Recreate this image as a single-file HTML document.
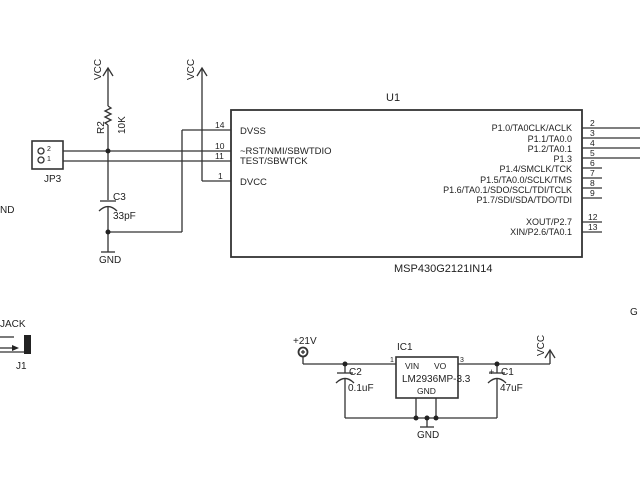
<!DOCTYPE html>
<html><head><style>
html,body{margin:0;padding:0;background:#fff;}
svg text{font-family:"Liberation Sans",sans-serif;fill:#222;}
</style></head><body>
<svg width="640" height="480" viewBox="0 0 640 480" xmlns="http://www.w3.org/2000/svg">
<g stroke="#333" stroke-width="1.3" fill="none">
<rect x="231" y="110" width="351" height="147" stroke-width="1.8"/>
<line x1="182" y1="130" x2="231" y2="130"/>
<line x1="182" y1="130" x2="182" y2="232"/>
<line x1="108" y1="232" x2="182" y2="232"/>
<line x1="63" y1="151" x2="231" y2="151"/>
<line x1="63" y1="161" x2="231" y2="161"/>
<line x1="202" y1="181" x2="231" y2="181"/>
<line x1="202" y1="68" x2="202" y2="181"/>
<polyline points="197,76 202,68 207,76"/>
<line x1="108" y1="68" x2="108" y2="106"/>
<polyline points="103,76 108,68 113,76"/>
<polyline points="108,106 111,108 105,111 111,114 105,117 111,120 105,123 108,125"/>
<line x1="108" y1="125" x2="108" y2="200"/>
<line x1="100" y1="201" x2="116" y2="201"/>
<path d="M99,211 Q108,202 117,211"/>
<line x1="108" y1="206" x2="108" y2="252"/>
<line x1="101" y1="252" x2="115" y2="252"/>
<rect x="32" y="141" width="31" height="28" stroke-width="1.6"/>
<circle cx="41" cy="151" r="3"/>
<circle cx="41" cy="160" r="3"/>
<line x1="582" y1="128" x2="640" y2="128"/>
<line x1="582" y1="138" x2="640" y2="138"/>
<line x1="582" y1="148" x2="640" y2="148"/>
<line x1="582" y1="158" x2="640" y2="158"/>
<line x1="582" y1="168" x2="602" y2="168"/>
<line x1="582" y1="178" x2="602" y2="178"/>
<line x1="582" y1="188" x2="602" y2="188"/>
<line x1="582" y1="198" x2="602" y2="198"/>
<line x1="582" y1="222" x2="602" y2="222"/>
<line x1="582" y1="232" x2="602" y2="232"/>
<line x1="0" y1="337" x2="14" y2="337"/>
<line x1="0" y1="348" x2="14" y2="348"/>
<line x1="0" y1="352" x2="24" y2="352"/>
<rect x="396" y="357" width="62" height="41" stroke-width="1.6"/>
<circle cx="303" cy="352" r="4.5" stroke-width="1.8"/>
<line x1="301" y1="352" x2="305" y2="352"/><line x1="303" y1="350" x2="303" y2="354"/>
<line x1="303" y1="357" x2="303" y2="364"/>
<line x1="303" y1="364" x2="396" y2="364"/>
<line x1="458" y1="364" x2="550" y2="364"/>
<line x1="550" y1="350" x2="550" y2="364"/>
<polyline points="545,358 550,350 555,358"/>
<line x1="345" y1="364" x2="345" y2="373"/>
<line x1="337" y1="373" x2="353" y2="373"/>
<path d="M336,383 Q345,374 354,383"/>
<line x1="345" y1="378" x2="345" y2="418"/>
<line x1="497" y1="364" x2="497" y2="373"/>
<line x1="489" y1="373" x2="505" y2="373"/>
<path d="M488,383 Q497,374 506,383"/>
<line x1="497" y1="378" x2="497" y2="418"/>
<line x1="345" y1="418" x2="497" y2="418"/>
<line x1="416" y1="398" x2="416" y2="418"/>
<line x1="436" y1="398" x2="436" y2="418"/>
<line x1="427" y1="418" x2="427" y2="427"/>
<line x1="420" y1="427" x2="434" y2="427"/>
</g>
<g fill="#222">
<circle cx="108" cy="151" r="2.5"/><circle cx="108" cy="232" r="2.5"/>
<circle cx="345" cy="364" r="2.5"/><circle cx="497" cy="364" r="2.5"/>
<circle cx="416" cy="418" r="2.5"/><circle cx="427" cy="418" r="2.5"/><circle cx="436" cy="418" r="2.5"/>
<rect x="24" y="335" width="7" height="19"/>
<polygon points="12,345 19,348 12,351"/>
</g>
<g font-size="9.5">
<text x="386" y="101" font-size="11">U1</text>
<text x="394" y="272" font-size="11">MSP430G2121IN14</text>
<text x="240" y="134">DVSS</text>
<text x="240" y="154">~RST/NMI/SBWTDIO</text>
<text x="240" y="164">TEST/SBWTCK</text>
<text x="240" y="185">DVCC</text>
<g font-size="8.5">
<text x="215" y="128">14</text><text x="215" y="149">10</text><text x="215" y="159">11</text><text x="218" y="179">1</text>
</g>
<g text-anchor="end" font-size="9">
<text x="572" y="131">P1.0/TA0CLK/ACLK</text>
<text x="572" y="142">P1.1/TA0.0</text>
<text x="572" y="152">P1.2/TA0.1</text>
<text x="572" y="162">P1.3</text>
<text x="572" y="172">P1.4/SMCLK/TCK</text>
<text x="572" y="183">P1.5/TA0.0/SCLK/TMS</text>
<text x="572" y="193">P1.6/TA0.1/SDO/SCL/TDI/TCLK</text>
<text x="572" y="203">P1.7/SDI/SDA/TDO/TDI</text>
<text x="572" y="225">XOUT/P2.7</text>
<text x="572" y="235">XIN/P2.6/TA0.1</text>
</g>
<g font-size="8.5">
<text x="590" y="126">2</text><text x="590" y="136">3</text><text x="590" y="146">4</text><text x="590" y="156">5</text>
<text x="590" y="166">6</text><text x="590" y="176">7</text><text x="590" y="186">8</text><text x="590" y="196">9</text>
<text x="588" y="220">12</text><text x="588" y="230">13</text>
</g>
<text x="44" y="182" font-size="10">JP3</text>
<text x="47" y="151" font-size="7">2</text><text x="47" y="161" font-size="7">1</text>
<text x="113" y="200" font-size="10">C3</text>
<text x="113" y="219" font-size="10">33pF</text>
<text x="99" y="263" font-size="10">GND</text>
<text transform="translate(101,80) rotate(-90)" font-size="10">VCC</text>
<text transform="translate(194,80) rotate(-90)" font-size="10">VCC</text>
<text transform="translate(104,134) rotate(-90)" font-size="10">R2</text>
<text transform="translate(125,134) rotate(-90)" font-size="10">10K</text>
<text x="0" y="213" font-size="10">ND</text>
<text x="0" y="327" font-size="10">JACK</text>
<text x="16" y="369" font-size="10">J1</text>
<text x="293" y="344" font-size="10">+21V</text>
<text x="397" y="350" font-size="10">IC1</text>
<text x="405" y="369" font-size="8.5">VIN</text>
<text x="434" y="369" font-size="8.5">VO</text>
<text x="402" y="382" font-size="10">LM2936MP-3.3</text>
<text x="417" y="394" font-size="8.5">GND</text>
<text x="390" y="362" font-size="7">1</text><text x="460" y="362" font-size="7">3</text>
<text x="349" y="375" font-size="10">C2</text><text x="348" y="391" font-size="10">0.1uF</text>
<text x="501" y="375" font-size="10">C1</text><text x="500" y="391" font-size="10">47uF</text>
<text x="489" y="375" font-size="9">+</text>
<text x="417" y="438" font-size="10">GND</text>
<text transform="translate(544,356) rotate(-90)" font-size="10">VCC</text>
<text x="630" y="315" font-size="10">G</text>
</g>
</svg>
</body></html>
